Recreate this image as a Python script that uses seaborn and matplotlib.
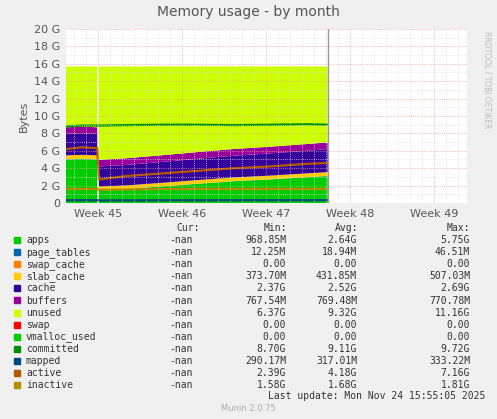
import numpy as np
import pandas as pd
import matplotlib
matplotlib.use("Agg")
import matplotlib.pyplot as plt
import seaborn as sns

# time in days from the left edge of the plot
days = [0, 1.3, 2.6, 2.68, 2.75, 5, 8, 11, 14, 17, 20, 21.8]
apps = [5.0, 5.05, 5.0, np.nan, 1.5, 1.6, 1.9, 2.2, 2.5, 2.7, 2.95, 3.1]
page_tables = [0.03, 0.03, 0.03, np.nan, 0.02, 0.02, 0.02, 0.02, 0.02, 0.02, 0.02, 0.02]
swap_cache = [0, 0, 0, np.nan, 0, 0, 0, 0, 0, 0, 0, 0]
slab_cache = [0.45, 0.45, 0.45, np.nan, 0.38, 0.4, 0.4, 0.42, 0.42, 0.43, 0.43, 0.43]
cache = [2.45, 2.5, 2.45, np.nan, 2.3, 2.35, 2.4, 2.45, 2.5, 2.55, 2.6, 2.65]
buffers = [0.77, 0.77, 0.77, np.nan, 0.77, 0.77, 0.77, 0.77, 0.77, 0.77, 0.77, 0.77]
total = 15.7
committed = [8.8, 8.9, 8.9, np.nan, 8.9, 8.95, 9.0, 9.0, 8.95, 9.0, 9.05, 9.0]
mapped = [0.32, 0.32, 0.32, np.nan, 0.3, 0.3, 0.31, 0.31, 0.32, 0.32, 0.32, 0.32]
active = [6.2, 6.4, 6.3, np.nan, 2.7, 3.1, 3.4, 3.7, 4.0, 4.2, 4.5, 4.6]
inactive = [1.6, 1.6, 1.6, np.nan, 1.5, 1.55, 1.6, 1.6, 1.6, 1.6, 1.6, 1.6]

week_labels = ["Week 45", "Week 46", "Week 47", "Week 48", "Week 49"]
week_pos = [2.67, 9.67, 16.67, 23.67, 30.67]

legend_rows = [
    ("apps", "#00CC00", "968.85M", "2.64G", "5.75G"),
    ("page_tables", "#0066B3", "12.25M", "18.94M", "46.51M"),
    ("swap_cache", "#FF8000", "0.00", "0.00", "0.00"),
    ("slab_cache", "#FFCC00", "373.70M", "431.85M", "507.03M"),
    ("cache", "#330099", "2.37G", "2.52G", "2.69G"),
    ("buffers", "#990099", "767.54M", "769.48M", "770.78M"),
    ("unused", "#CCFF00", "6.37G", "9.32G", "11.16G"),
    ("swap", "#FF0000", "0.00", "0.00", "0.00"),
    ("vmalloc_used", "#00CC00", "0.00", "0.00", "0.00"),
    ("committed", "#008F00", "8.70G", "9.11G", "9.72G"),
    ("mapped", "#00487D", "290.17M", "317.01M", "333.22M"),
    ("active", "#B35A00", "2.39G", "4.18G", "7.16G"),
    ("inactive", "#B38F00", "1.58G", "1.68G", "1.81G"),
]

df = pd.DataFrame({"day": days, "apps": apps, "page_tables": page_tables,
                   "swap_cache": swap_cache, "slab_cache": slab_cache,
                   "cache": cache, "buffers": buffers})
df["unused"] = total - df[["apps", "page_tables", "swap_cache", "slab_cache",
                           "cache", "buffers"]].sum(axis=1, skipna=False)

sns.set_style("white")
plt.rcParams["font.family"] = ["DejaVu Sans"]
fig = plt.figure(figsize=(4.97, 4.19), dpi=100, facecolor="#F0F0F0")
ax = fig.add_axes([66 / 497, 1 - 203 / 419, 401 / 497, 174 / 419])
ax.set_facecolor("white")

stack = ["apps", "page_tables", "swap_cache", "slab_cache", "cache", "buffers", "unused"]
colors = dict((r[0], r[1]) for r in legend_rows)
base = np.zeros(len(df))
for name in stack:
    top = base + df[name].values
    ax.fill_between(df["day"], base, top, color=colors[name], lw=0)
    base = top

lines = pd.DataFrame({"day": days, "committed": committed, "mapped": mapped,
                      "active": active, "inactive": inactive})
for name in ["committed", "mapped", "active", "inactive"]:
    sns.lineplot(x=lines["day"], y=lines[name], color=colors[name], lw=1.6, ax=ax)

ax.set_xlim(0, 33.4)
ax.set_ylim(0, 20)
ax.set_yticks(range(0, 21, 2))
ax.set_yticklabels(["0"] + [f"{v} G" for v in range(2, 21, 2)], fontsize=8, color="#555555")
ax.set_xticks(week_pos)
ax.set_xticklabels(week_labels, fontsize=8, color="#555555")
ax.set_xticks(np.arange(0.67, 33.4, 1), minor=True)
ax.set_yticks(np.arange(1, 20, 1), minor=True)
ax.grid(which="minor", color="#dddddd", ls=":", lw=0.6)
ax.grid(which="major", color="#f0a0a0", ls=":", lw=0.6)
ax.set_axisbelow(False)
ax.set_xlabel("")
ax.set_ylabel("Bytes", fontsize=8, color="#555555")
ax.tick_params(length=2, pad=2)
for s in ax.spines.values():
    s.set_visible(False)
ax.axvline(21.85, color="#999999", lw=1)

fig.text(0.5, 1 - 12 / 419, "Memory usage - by month", ha="center", va="center",
         fontsize=10, color="#555555")
fig.text(487 / 497, 1 - 80 / 419, "RRDTOOL / TOBI OETIKER", rotation=270,
         ha="center", va="center", fontsize=5.5, color="#bbbbbb")

mono = "DejaVu Sans Mono"
y0 = 228
fig.text(200 / 497, 1 - y0 / 419, "Cur:", ha="right", va="center", family=mono, fontsize=7, color="#333333")
fig.text(287 / 497, 1 - y0 / 419, "Min:", ha="right", va="center", family=mono, fontsize=7, color="#333333")
fig.text(358 / 497, 1 - y0 / 419, "Avg:", ha="right", va="center", family=mono, fontsize=7, color="#333333")
fig.text(470 / 497, 1 - y0 / 419, "Max:", ha="right", va="center", family=mono, fontsize=7, color="#333333")
for i, (name, col, mn, av, mx) in enumerate(legend_rows):
    y = 1 - (240 + i * 12.1) / 419
    fig.patches.append(plt.Rectangle((14 / 497, y - 3 / 419), 6 / 497, 6 / 419,
                                     transform=fig.transFigure, color=col))
    fig.text(26 / 497, y, name, va="center", family=mono, fontsize=7, color="#333333")
    fig.text(193 / 497, y, "-nan", ha="right", va="center", family=mono, fontsize=7, color="#333333")
    fig.text(286 / 497, y, mn, ha="right", va="center", family=mono, fontsize=7, color="#333333")
    fig.text(357 / 497, y, av, ha="right", va="center", family=mono, fontsize=7, color="#333333")
    fig.text(470 / 497, y, mx, ha="right", va="center", family=mono, fontsize=7, color="#333333")
fig.text(485 / 497, 1 - 396 / 419, "Last update: Mon Nov 24 15:55:05 2025", ha="right",
         va="center", family=mono, fontsize=7, color="#333333")
fig.text(0.5, 1 - 408 / 419, "Munin 2.0.75", ha="center", va="center", fontsize=6, color="#aaaaaa")

fig.savefig("out.png", dpi=100, facecolor=fig.get_facecolor())
